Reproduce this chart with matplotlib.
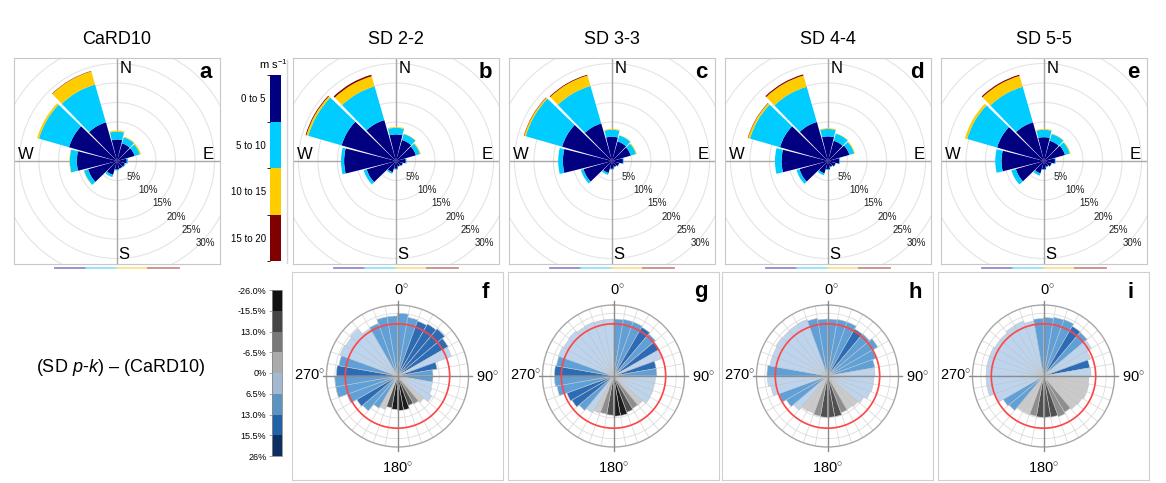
import numpy as np
import matplotlib
matplotlib.use("Agg")
import matplotlib.pyplot as plt
from matplotlib.patches import Wedge, Circle
from matplotlib.colors import ListedColormap, BoundaryNorm
from matplotlib.cm import ScalarMappable
from matplotlib.lines import Line2D

plt.rcParams['font.family'] = ['Liberation Sans', 'DejaVu Sans']
plt.rcParams['mathtext.fontset'] = 'custom'
plt.rcParams['mathtext.rm'] = 'Liberation Sans'
plt.rcParams['mathtext.it'] = 'Liberation Sans:italic'

W, H = 1166, 483

# ---- wind roses (top row) ----
rose_dirs = [0, 30, 60, 90, 120, 150, 180, 210, 240, 270, 300, 330]
speed_bins = ['0 to 5', '5 to 10', '10 to 15', '15 to 20']
speed_colors = ['#000080', '#00ccff', '#ffcc00', '#800000']
rose_titles = ['CaRD10', 'SD 2-2', 'SD 3-3', 'SD 4-4', 'SD 5-5']
rose_letters = ['a', 'b', 'c', 'd', 'e']
ring_pct = [5, 10, 15, 20, 25, 30]

# % frequency per direction, one row per speed bin
card10 = [[5.5, 4.7, 4.7, 2.5, 2.1, 2.0, 2.2, 3.7, 7.7, 10.3, 12.8, 10.3],
          [2.0, 1.6, 1.4, 0.3, 0.2, 0.1, 0.2, 0.6, 1.1, 1.8, 8.0, 10.1],
          [0.3, 0.2, 0.3, 0.0, 0.0, 0.0, 0.0, 0.0, 0.1, 0.1, 0.5, 3.5],
          [0.0, 0.0, 0.0, 0.0, 0.0, 0.0, 0.0, 0.0, 0.0, 0.0, 0.0, 0.1]]
sd22 = [[6.8, 5.6, 5.3, 2.5, 1.8, 1.5, 2.0, 3.0, 7.8, 13.3, 14.5, 10.9],
        [1.7, 1.6, 1.1, 0.2, 0.1, 0.1, 0.2, 0.4, 0.8, 0.8, 8.9, 9.0],
        [0.2, 0.1, 0.2, 0.0, 0.0, 0.0, 0.0, 0.0, 0.0, 0.0, 0.5, 2.7],
        [0.0, 0.0, 0.0, 0.0, 0.0, 0.0, 0.0, 0.0, 0.0, 0.0, 0.2, 0.4]]
sd33 = [[6.2, 5.2, 5.0, 2.8, 1.9, 1.6, 2.0, 3.2, 7.6, 12.6, 13.3, 10.0],
        [1.8, 1.6, 1.4, 0.2, 0.1, 0.1, 0.2, 0.5, 0.7, 1.2, 9.7, 10.0],
        [0.2, 0.1, 0.2, 0.0, 0.0, 0.0, 0.0, 0.0, 0.0, 0.0, 0.4, 2.8],
        [0.0, 0.0, 0.0, 0.0, 0.0, 0.0, 0.0, 0.0, 0.0, 0.0, 0.1, 0.2]]
sd44 = [[6.3, 5.4, 5.7, 2.9, 2.0, 1.6, 2.1, 3.3, 7.6, 11.9, 12.8, 10.4],
        [1.9, 1.9, 1.3, 0.2, 0.1, 0.1, 0.2, 0.5, 0.8, 1.7, 8.0, 9.4],
        [0.2, 0.1, 0.2, 0.0, 0.0, 0.0, 0.0, 0.0, 0.0, 0.0, 0.5, 3.0],
        [0.0, 0.0, 0.0, 0.0, 0.0, 0.0, 0.0, 0.0, 0.0, 0.0, 0.1, 0.3]]
sd55 = [[6.1, 5.4, 5.6, 2.8, 2.0, 1.6, 2.1, 3.3, 7.5, 10.9, 12.5, 10.3],
        [1.9, 1.8, 1.3, 0.2, 0.1, 0.1, 0.2, 0.6, 1.2, 1.6, 8.0, 9.5],
        [0.2, 0.1, 0.2, 0.0, 0.0, 0.0, 0.0, 0.0, 0.0, 0.0, 0.6, 2.9],
        [0.0, 0.0, 0.0, 0.0, 0.0, 0.0, 0.0, 0.0, 0.0, 0.0, 0.0, 0.3]]
rose_freqs = [card10, sd22, sd33, sd44, sd55]

# ---- difference roses (bottom row) ----
diff_letters = ['f', 'g', 'h', 'i']
diff_sectors = np.arange(0, 360, 10)
diff_bounds = [-26, -15.5, -13, -6.5, 0, 6.5, 13, 15.5, 26]
diff_ticklabels = ['-26.0%', '-15.5%', '13.0%', '-6.5%', '0%', '6.5%', '13.0%', '15.5%', '26%']
cbar_colors = ['#111111', '#454545', '#787878', '#ababab', '#a3b9d2', '#5d93c0', '#2062a5', '#0d2e62']
bar_colors = ['#1c1c1c', '#505050', '#8e8e8e', '#cacaca', '#bdd4ee', '#5fa0d8', '#2c6cb7', '#123c7a']

# radius relative to CaRD10 reference (red circle = 1)
f_rad = [1.20, 1.14, 1.12, 1.15, 1.18, 1.12, 1.10, 0.77, 0.68, 0.68, 0.68, 0.70,
         0.76, 0.66, 0.62, 0.60, 0.66, 0.66, 0.64, 0.62, 0.68, 0.71, 0.87, 0.90,
         1.03, 1.20, 1.20, 1.17, 1.14, 1.17, 1.15, 1.18, 1.05, 1.07, 1.15, 1.15]
f_diff = [9, 9, 14, 14, 14, 14, 3, 14, 9, 9, 3, 3,
          3, -3, -9, -14, -19, -19, -19, -14, -3, 9, 9, 14,
          9, 9, 9, 14, 9, 3, 3, 3, 3, 9, 9, 9]
g_rad = [1.09, 1.10, 1.10, 1.08, 1.05, 1.01, 1.00, 0.83, 0.83, 0.80, 0.79, 0.80,
         0.81, 0.73, 0.72, 0.74, 0.77, 0.77, 0.75, 0.74, 0.76, 0.81, 0.86, 0.92,
         0.95, 1.10, 1.13, 1.13, 1.11, 1.12, 1.10, 1.12, 1.09, 1.10, 1.09, 1.09]
g_diff = [9, 9, 9, 14, 9, 14, 3, 14, 9, 3, 3, 3,
          3, -3, -9, -14, -19, -19, -14, -9, -3, 3, 9, 14,
          14, 9, 9, 14, 9, 3, 3, 3, 3, 3, 3, 3]
h_rad = [1.09, 1.10, 1.10, 1.04, 1.05, 1.11, 0.99, 0.92, 0.91, 0.89, 0.89, 0.87,
         0.80, 0.76, 0.74, 0.75, 0.79, 0.79, 0.79, 0.78, 0.76, 0.77, 0.85, 0.91,
         0.99, 1.10, 1.15, 1.16, 1.12, 1.12, 1.14, 1.13, 1.14, 1.15, 1.12, 1.09]
h_diff = [9, 9, 9, 14, 9, 9, 9, 9, 3, 3, 3, 3,
          3, -3, -3, -9, -14, -14, -14, -9, -3, -3, 3, 9,
          9, 3, 3, 9, 3, 3, 3, 3, 3, 3, 9, 9]
i_rad = [1.12, 1.14, 1.15, 1.10, 1.09, 1.06, 0.96, 0.90, 0.91, 0.87, 0.88, 0.88,
         0.85, 0.83, 0.80, 0.83, 0.80, 0.79, 0.79, 0.78, 0.78, 0.78, 0.86, 0.89,
         0.98, 1.10, 1.10, 1.10, 1.10, 1.10, 1.08, 1.08, 1.11, 1.12, 1.07, 1.10]
i_diff = [9, 9, 9, 14, 9, 3, 3, 14, 3, -3, -3, -3,
          -3, -3, -9, -9, -14, -14, -14, -9, -3, -3, 9, 9,
          3, 3, 3, 3, 3, 3, 3, 3, 3, 3, 3, 9]
diff_rads = [f_rad, g_rad, h_rad, i_rad]
diff_vals = [f_diff, g_diff, h_diff, i_diff]


def px(x0, y0, w, h):
    return [x0 / W, 1 - (y0 + h) / H, w / W, h / H]


def draw_rose(ax, freq, letter):
    L = 26.4
    ax.set_xlim(-L, L)
    ax.set_ylim(-L, L)
    ax.set_xticks([])
    ax.set_yticks([])
    for s in ax.spines.values():
        s.set_color('#c8c8c8')
    for r in ring_pct:
        ax.add_patch(Circle((0, 0), r, fill=False, ec='#e4e4e4', lw=0.8, zorder=1))
    ax.axhline(0, color='#a8a8a8', lw=1, zorder=1.5)
    ax.axvline(0, color='#a8a8a8', lw=1, zorder=1.5)
    for j, d in enumerate(rose_dirs):
        base = 0
        for k in range(len(speed_bins)):
            v = freq[k][j]
            if v <= 0:
                continue
            ax.add_patch(Wedge((0, 0), base + v, 90 - d - 14, 90 - d + 14, width=v,
                               fc=speed_colors[k], ec='none', zorder=2))
            base += v
    a = np.deg2rad(-43)
    for p in ring_pct:
        ax.text((p + 0.9) * np.cos(a), (p + 0.9) * np.sin(a), '%d%%' % p,
                ha='center', va='center', fontsize=7, color='#222222', zorder=3)
    ax.text(0.8, 23.6, 'N', ha='left', va='center', fontsize=12)
    ax.text(0.4, -23.9, 'S', ha='left', va='center', fontsize=12)
    ax.text(-23.3, 1.7, 'W', ha='center', va='center', fontsize=12)
    ax.text(23.5, 1.7, 'E', ha='center', va='center', fontsize=12)
    ax.text(22.8, 22.7, letter, ha='center', va='center', fontsize=16, fontweight='bold')


bar_cmap = ListedColormap(bar_colors)
diff_norm = BoundaryNorm(diff_bounds, len(bar_colors))


def draw_diff(ax, rad, diff):
    theta = np.deg2rad(diff_sectors)
    ax.set_theta_zero_location('N')
    ax.set_theta_direction(-1)
    ax.set_axisbelow(True)
    ax.bar(theta, rad, width=np.deg2rad(10), align='edge',
           color=bar_cmap(diff_norm(np.array(diff))), edgecolor='#c4c4c4', linewidth=0.4, zorder=2)
    ax.set_ylim(0, 1.36)
    ax.set_thetagrids(diff_sectors, labels=[])
    ax.set_rgrids([0.2, 0.4, 0.6, 0.8, 1.0, 1.2], labels=[])
    ax.grid(color='#dcdcdc', lw=0.6)
    ax.spines['polar'].set_color('#a8a8a8')
    ax.spines['polar'].set_linewidth(1)
    t = np.linspace(0, 2 * np.pi, 361)
    ax.plot(t, np.ones_like(t), color='#ff4545', lw=1.2, zorder=4)
    for ang in [0, 90, 180, 270]:
        ax.plot([np.deg2rad(ang)] * 2, [0, 1.43], color='#8c8c8c', lw=1, zorder=3, clip_on=False)
    ax.text(0.53, 1.10, '0$^{\\circ}$', transform=ax.transAxes, ha='center', va='center', fontsize=10.5)
    ax.text(0.5, -0.15, '180$^{\\circ}$', transform=ax.transAxes, ha='center', va='center', fontsize=10.5)
    ax.text(-0.12, 0.5, '270$^{\\circ}$', transform=ax.transAxes, ha='center', va='center', fontsize=10.5)
    ax.text(1.13, 0.49, '90$^{\\circ}$', transform=ax.transAxes, ha='center', va='center', fontsize=10.5)


fig = plt.figure(figsize=(W / 100, H / 100), dpi=100)

rose_left = [14, 293, 509, 725, 941]
strip_colors = ['#8c8cc6', '#8ce4fa', '#fbe28c', '#c88c8c']
for i in range(5):
    ax = fig.add_axes(px(rose_left[i], 58, 206, 206))
    draw_rose(ax, rose_freqs[i], rose_letters[i])
    fig.text((rose_left[i] + 103) / W, 1 - 40 / H, rose_titles[i], ha='center', va='center', fontsize=13)
    for k, c in enumerate(strip_colors):
        x0 = rose_left[i] + 41 + k * 31
        fig.add_artist(Line2D([x0 / W, (x0 + 31) / W], [1 - 268 / H] * 2, color=c, lw=1.3))

# speed colorbar
cax = fig.add_axes(px(270, 75, 11, 186))
speed_norm = BoundaryNorm([0, 5, 10, 15, 20], 4)
cb = fig.colorbar(ScalarMappable(norm=speed_norm, cmap=ListedColormap(speed_colors)), cax=cax,
                  ticks=[2.5, 7.5, 12.5, 17.5])
cb.outline.set_visible(False)
cax.invert_yaxis()
cax.yaxis.set_ticks_position('left')
cax.set_yticklabels(speed_bins, fontsize=7)
cax.tick_params(length=0, pad=3)
fig.text(273 / W, 1 - 64 / H, 'm s$^{-1}$', ha='center', va='center', fontsize=8)
fig.add_artist(Line2D([287 / W] * 2, [1 - 60 / H, 1 - 263 / H], color='#d4d4d4', lw=1))

# difference colorbar
dax = fig.add_axes(px(272, 290, 10, 166))
db = fig.colorbar(ScalarMappable(norm=BoundaryNorm(diff_bounds, len(cbar_colors)),
                                 cmap=ListedColormap(cbar_colors)), cax=dax,
                  boundaries=diff_bounds, spacing='uniform', ticks=diff_bounds)
dax.invert_yaxis()
dax.yaxis.set_ticks_position('left')
dax.set_yticklabels(diff_ticklabels, fontsize=6.5)
dax.tick_params(length=2, width=0.5, color='#888888', pad=2)
db.outline.set_edgecolor('#888888')
db.outline.set_linewidth(0.6)

fig.text(120 / W, 1 - 367 / H, '(SD $p$-$k$) \u2013 (CaRD10)', ha='center', va='center', fontsize=13)

diff_left = [292, 508, 722, 938]
for i in range(4):
    bx = fig.add_axes(px(diff_left[i], 272, 211, 208))
    bx.set_xticks([])
    bx.set_yticks([])
    for s in bx.spines.values():
        s.set_color('#d0d0d0')
    cx = diff_left[i] + 105.5
    pax = fig.add_axes(px(cx - 71, 376 - 71, 142, 142), projection='polar')
    draw_diff(pax, diff_rads[i], diff_vals[i])
    fig.text((diff_left[i] + 193) / W, 1 - 292 / H, diff_letters[i], ha='center', va='center',
             fontsize=16, fontweight='bold')

fig.savefig('out.png', dpi=100)
